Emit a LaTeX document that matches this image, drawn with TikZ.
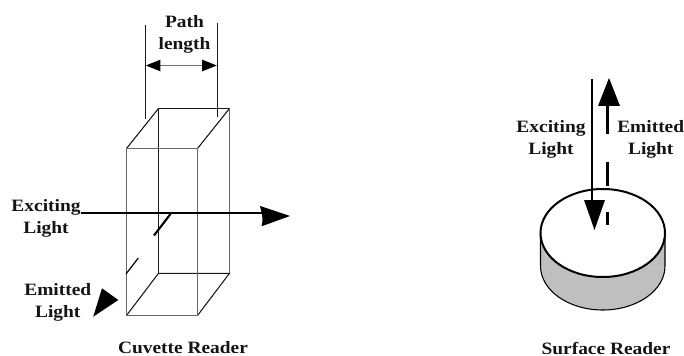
\documentclass[tikz,border=0pt]{standalone}
\usepackage{fontspec}
\setmainfont{Liberation Serif}[FakeStretch=1.12,BoldFont={Liberation Serif Bold}]
\usetikzlibrary{arrows.meta}
\tikzset{
  lbl/.style={inner sep=0pt,align=center,font=\fontsize{13}{16.5}\selectfont\bfseries,text=black!92},
  thin box/.style={draw=black!90,line width=0.8pt},
  gray box/.style={draw=black!60,line width=1pt},
  ray/.style={draw=black,line width=1.6pt},
  head/.style={fill=black,draw=none},
  dim/.style={draw=black!55,line width=1.2pt,{Triangle[length=11pt,width=8.5pt,black]}-{Triangle[length=11pt,width=8.5pt,black]}}
}
\begin{document}
\begin{tikzpicture}[x=0.75pt,y=-0.75pt]
\useasboundingbox (0,0) rectangle (684,356);
% cuvette corners
\coordinate (bt1) at (158.5,108.5); \coordinate (bt2) at (229.5,108.5);
\coordinate (ft1) at (126.5,148.5); \coordinate (ft2) at (197.5,148.5);
\coordinate (bb1) at (158.5,273.3); \coordinate (bb2) at (229.5,273.3);
\coordinate (fb1) at (126.5,315.5); \coordinate (fb2) at (197.5,315.5);
\draw[thin box] (bt1) -- (bb1);
\draw[thin box] (bt1) -- (bt2);
\draw[thin box] (ft1) -- (bt1);
\draw[thin box] (ft2) -- (bt2);
\draw[thin box] (fb1) -- (bb1) -- (bb2) -- (fb2);
\draw[gray box] (ft1) -- (ft2) -- (fb2) -- (fb1) -- cycle;
\draw[gray box] (bt2) -- (bb2);
% path-length guides
\coordinate (g1a) at (145.3,25); \coordinate (g1b) at (145.3,119.5);
\coordinate (g2a) at (217.3,23); \coordinate (g2b) at (217.3,117);
\draw[thin box] (g1a) -- (g1b);
\draw[thin box] (g2a) -- (g2b);
\coordinate (d1) at (145.8,65.5); \coordinate (d2) at (216.8,65.5);
\draw[dim] (d1) -- (d2);
\node[lbl] (pathlabel) at (184.5,34.5) {Path\\length};
% exciting light
\coordinate (ex1) at (81,213.4); \coordinate (ex2) at (262,213.4);
\draw[ray] (ex1) -- (ex2);
\fill[head] (260,206) -- (290,216) -- (261.5,226.3) .. controls (263,219) .. cycle;
\node[lbl] (exc) at (46,218.5) {Exciting\\Light};
% emitted light
\coordinate (s1) at (170.5,214); \coordinate (s2) at (154,235.5);
\draw[ray] (s1) -- (s2);
\coordinate (s3) at (138.3,258); \coordinate (s4) at (126,274);
\draw[black,line width=0.9pt] (s3) -- (s4);
\fill[head] (102,288.3) -- (118.3,300) -- (93.2,316.7) -- cycle;
\node[lbl] (emi) at (57.8,302) {Emitted\\Light};
\node[lbl] (cuv) at (183,348) {Cuvette Reader};
% surface reader
\path[fill=black!25,draw=black,line width=0.8pt] (540.5,233) -- (540.5,266) arc[start angle=180,end angle=360,x radius=62.25,y radius=-44] -- (665,233) -- cycle;
\path[fill=white,draw=black,line width=1.5pt] (602.75,233) ellipse[x radius=62.25,y radius=44];
\coordinate (r1) at (591.7,79); \coordinate (r2) at (591.7,203);
\draw[ray] (r1) -- (r2);
\fill[head] (584,200) -- (605,200) -- (594.5,230) -- cycle;
\coordinate (u1) at (607.5,225); \coordinate (u2) at (607.5,104);
\draw[ray,line width=2.2pt] (u1) -- (607.5,212);
\draw[ray,line width=2.2pt] (607.5,186) -- (607.5,162);
\draw[ray,line width=2.2pt] (607.5,134.5) -- (u2);
\fill[head] (609,78) -- (620,106) -- (598,106) -- cycle;
\node[lbl] (exc2) at (551,139) {Exciting\\Light};
\node[lbl] (emi2) at (650.7,139) {Emitted\\Light};
\node[lbl] (surf) at (606,348) {Surface Reader};
\end{tikzpicture}
\end{document}
